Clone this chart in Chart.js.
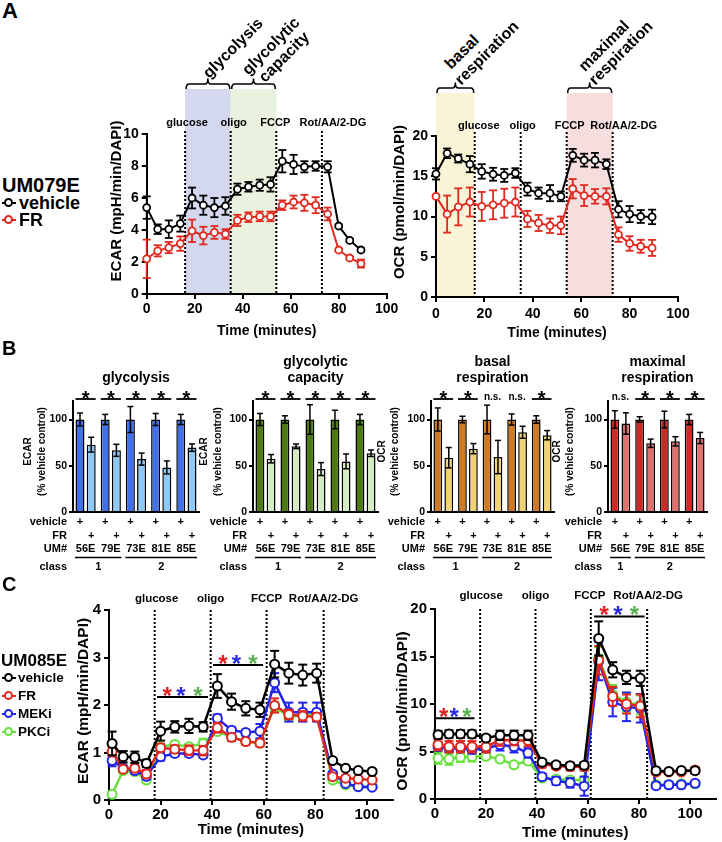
<!DOCTYPE html>
<html>
<head>
<meta charset="utf-8">
<title>ECAR / OCR</title>
<script src="https://cdn.jsdelivr.net/npm/chart.js@4.4.1/dist/chart.umd.min.js"></script>
<style>
  body { margin: 0; background: #fff; }
  #fig { position: relative; width: 722px; height: 842px; overflow: hidden; font-family: 'Liberation Sans', Arial, sans-serif; color: #000; }
  #fig canvas { position: absolute; }
  .t { position: absolute; line-height: 1; white-space: nowrap; font-weight: bold; transform: translateY(-50%); }
  .r { position: absolute; line-height: 1; white-space: nowrap; font-size: 16px; font-weight: bold; transform: translate(-50%, -50%) rotate(-45deg); }
  .mk { position: absolute; width: 14px; height: 0; border-top: 2px solid currentColor; }
  .mk i { position: absolute; left: 2px; top: -6px; width: 5px; height: 5px; border: 2px solid currentColor; border-radius: 50%; background: #fff; }
</style>
</head>
<body>
<div id="fig"></div>
<script>
// ---- panel A : UM079E, vehicle vs FR ----
const aTime = [0, 4.6, 9.2, 14, 18.9, 23.6, 28.2, 32.8, 37.8, 42.4, 47.1, 51.6, 56.5, 61.2, 65.7, 70.4, 75.4, 80, 84.6, 89.3];
const ecarVeh    = [5.4, 4.05, 4.05, 4.4, 6.0, 5.55, 5.4, 5.5, 6.55, 6.7, 6.8, 6.85, 8.3, 8.1, 7.95, 8.0, 7.95, 4.25, 3.35, 2.75];
const ecarVehErr = [0.7, 0.3, 0.55, 0.5, 0.65, 0.6, 0.6, 0.55, 0.35, 0.3, 0.35, 0.45, 0.7, 0.6, 0.35, 0.3, 0.35, 0.1, 0.1, 0.1];
const ecarFR     = [2.2, 2.7, 2.9, 3.15, 3.95, 3.65, 3.85, 3.75, 4.6, 4.8, 4.85, 4.85, 5.55, 5.75, 5.7, 5.55, 5.0, 2.75, 2.25, 1.9];
const ecarFRErr  = [1.2, 0.35, 0.35, 0.45, 0.7, 0.55, 0.4, 0.3, 0.35, 0.3, 0.3, 0.3, 0.3, 0.4, 0.5, 0.5, 0.4, 0.1, 0.1, 0.25];
const ocrVeh     = [15.3, 17.85, 17.2, 16.5, 15.6, 15.25, 15.1, 15.4, 13.4, 12.9, 12.9, 12.5, 17.6, 17.0, 17.0, 16.5, 10.9, 10.3, 10.0, 9.95];
const ocrVehErr  = [0.7, 0.6, 0.5, 1.0, 0.9, 0.8, 0.8, 0.6, 0.8, 0.7, 1.0, 0.6, 0.8, 0.8, 0.9, 0.6, 1.0, 1.0, 0.8, 0.9];
const ocrFR      = [12.5, 10.3, 11.2, 11.8, 11.25, 11.45, 11.65, 11.8, 9.7, 9.2, 8.85, 8.9, 13.45, 12.6, 12.5, 12.5, 7.75, 6.65, 6.3, 6.1];
const ocrFRErr   = [0.1, 2.3, 2.3, 1.8, 1.8, 1.8, 1.8, 1.8, 1.0, 1.0, 0.9, 1.1, 1.2, 1.3, 0.9, 1.0, 0.9, 0.9, 0.8, 1.0];
const injectA = [16, 35, 54, 73];
const injectLabels = ['glucose', 'oligo', 'FCCP', 'Rot/AA/2-DG'];

// ---- panel B : % vehicle control ----
const lines5 = ['56E', '79E', '73E', '81E', '85E'];
const class5 = ['1', '1', '2', '2', '2'];
const lines4 = ['56E', '79E', '81E', '85E'];
const class4 = ['1', '2', '2', '2'];
const glyVeh = [100, 100, 100, 100, 100], glyVehErr = [7, 5.5, 14, 6.5, 5.5];
const glyFR = [72.8, 66.7, 57.2, 48.2, 69.6], glyFRErr = [8, 6.5, 6.5, 7, 4];
const glySig = ['*', '*', '*', '*', '*'];
const capVeh = [100, 100, 100, 100, 100], capVehErr = [6.5, 4, 16, 10, 5.5];
const capFR = [57.6, 71, 46.4, 54.7, 63.5], capFRErr = [4.5, 2.5, 7, 8, 3.5];
const capSig = ['*', '*', '*', '*', '*'];
const basVeh = [100, 100, 100, 100, 100], basVehErr = [12.5, 3.5, 15.5, 6, 4];
const basFR = [58.7, 68.5, 59.4, 86.2, 83], basFRErr = [11, 5.5, 18, 6.5, 5];
const basSig = ['*', '*', 'n.s.', 'n.s.', '*'];
const maxVeh = [100, 100, 100, 100], maxVehErr = [9.5, 3, 9, 5.5];
const maxFR = [95.7, 74.3, 76.4, 80], maxFRErr = [11.5, 4.5, 5, 6];
const maxSig = ['n.s.', '*', '*', '*'];

// ---- panel C : UM085E, vehicle / FR / MEKi / PKCi ----
const cTime = [1.2, 5.5, 10, 14.5, 20, 25.5, 31, 36.5, 42, 47.5, 53, 58.5, 64.2, 69.7, 75.1, 80.5, 86.7, 91.7, 96.6, 102];
const cEcarVeh    = [1.19, 0.91, 0.9, 0.77, 1.45, 1.54, 1.56, 1.54, 2.4, 2.07, 1.93, 1.9, 2.86, 2.67, 2.63, 2.67, 0.83, 0.67, 0.62, 0.6];
const cEcarVehErr = [0.25, 0.12, 0.12, 0.08, 0.2, 0.12, 0.15, 0.1, 0.25, 0.17, 0.15, 0.15, 0.28, 0.22, 0.22, 0.2, 0.05, 0.04, 0.03, 0.03];
const cEcarFR     = [1.02, 0.65, 0.67, 0.55, 1.1, 1.07, 1.05, 1.04, 1.52, 1.32, 1.23, 1.2, 1.99, 1.8, 1.77, 1.75, 0.49, 0.46, 0.44, 0.42];
const cEcarFRErr  = [0.1, 0.05, 0.06, 0.08, 0.08, 0.08, 0.1, 0.1, 0.1, 0.08, 0.07, 0.07, 0.15, 0.1, 0.1, 0.08, 0.05, 0.04, 0.03, 0.03];
const cEcarMEK    = [0.83, 0.67, 0.62, 0.5, 0.91, 0.98, 0.98, 0.95, 1.72, 1.47, 1.42, 1.45, 2.47, 1.85, 1.85, 1.85, 0.55, 0.35, 0.28, 0.27];
const cEcarMEKErr = [0.12, 0.05, 0.05, 0.05, 0.08, 0.06, 0.06, 0.06, 0.08, 0.06, 0.06, 0.15, 0.2, 0.2, 0.2, 0.2, 0.04, 0.03, 0.03, 0.03];
const cEcarPKC    = [0.12, 0.62, 0.6, 0.42, 1.12, 1.17, 1.12, 1.19, 1.44, 1.33, 1.23, 1.2, 1.97, 1.75, 1.79, 1.81, 0.42, 0.32, 0.28, 0.28];
const cEcarPKCErr = [0.05, 0.05, 0.05, 0.05, 0.06, 0.06, 0.06, 0.1, 0.05, 0.05, 0.05, 0.05, 0.1, 0.08, 0.08, 0.08, 0.03, 0.03, 0.03, 0.03];
const cOcrVeh     = [6.77, 6.84, 6.84, 6.84, 6.42, 6.7, 6.7, 6.7, 3.86, 3.6, 3.5, 3.55, 16.9, 13.6, 12.8, 12.7, 2.98, 2.9, 3.0, 2.98];
const cOcrVehErr  = [0.4, 0.4, 0.4, 0.4, 0.3, 0.5, 0.5, 0.5, 0.3, 0.3, 0.3, 0.3, 1.8, 0.8, 0.7, 0.8, 0.2, 0.2, 0.2, 0.3];
const cOcrFR      = [5.72, 5.5, 5.5, 5.5, 5.5, 6.2, 6.15, 6.15, 3.7, 3.45, 3.4, 3.4, 14.6, 10.8, 10.0, 9.8, 2.85, 2.85, 2.85, 3.05];
const cOcrFRErr   = [0.6, 0.6, 0.6, 0.6, 0.6, 0.6, 0.5, 0.6, 0.4, 0.3, 0.4, 0.4, 1.5, 1.0, 1.0, 1.2, 0.3, 0.2, 0.2, 0.3];
const cOcrMEK     = [5.5, 5.35, 5.35, 5.2, 5.35, 5.7, 5.5, 4.85, 2.35, 1.9, 1.7, 1.35, 14.5, 10.2, 9.7, 9.55, 1.4, 1.5, 1.5, 1.65];
const cOcrMEKErr  = [0.4, 0.4, 0.4, 0.4, 0.4, 0.6, 0.6, 0.5, 0.3, 0.4, 0.5, 1.0, 2.0, 1.5, 1.5, 1.5, 0.3, 0.3, 0.3, 0.3];
const cOcrPKC     = [4.3, 4.2, 4.4, 4.45, 4.5, 4.2, 3.6, 4.0, 2.2, 2.1, 2.0, 2.0, 14.8, 11.0, 10.2, 9.9, 1.5, 1.5, 1.6, 1.6];
const cOcrPKCErr  = [0.6, 0.6, 0.5, 0.5, 0.3, 0.3, 0.3, 0.3, 0.3, 0.3, 0.3, 0.3, 1.2, 1.0, 1.0, 1.0, 0.2, 0.2, 0.2, 0.2];
const injectC = [17.7, 39.4, 61.1, 83.2];
// significance bars, in data units: [from, to] minutes and y level
const cEcarSigFrom = [18.6, 40.3], cEcarSigTo = [38.4, 59.7], cEcarSigY = [2.17, 2.84];
const cOcrSigFrom = [0.4, 62.4], cOcrSigTo = [15.5, 82.2], cOcrSigY = [8.5, 19.2];

const RED = '#e0281e', BLUE = '#2222ee', LIME = '#66e23a';
const STARS = ['#e02020', '#2a2ae6', '#58b050'];

const FONT = "'Liberation Sans', Arial, sans-serif";
const f = (size, weight) => (weight || 'bold') + ' ' + size + 'px ' + FONT;
Chart.defaults.font.family = FONT;
Chart.defaults.font.weight = 'bold';
Chart.defaults.color = '#000';

const fig = document.getElementById('fig');

function addCanvas(x, y, w, h) {
  const c = document.createElement('canvas');
  c.width = w; c.height = h;
  c.style.left = x + 'px'; c.style.top = y + 'px';
  c.style.width = w + 'px'; c.style.height = h + 'px';
  fig.appendChild(c);
  return c;
}

function label(txt, x, y, size) {
  const d = document.createElement('div');
  d.className = 't';
  d.textContent = txt;
  d.style.left = x + 'px'; d.style.top = y + 'px'; d.style.fontSize = size + 'px';
  fig.appendChild(d);
  return d;
}

function rotated(txt, x, y) {
  const d = document.createElement('div');
  d.className = 'r';
  d.textContent = txt;
  d.style.left = x + 'px'; d.style.top = y + 'px';
  fig.appendChild(d);
}

function marker(color, y) {
  const d = document.createElement('div');
  d.className = 'mk';
  d.style.left = '2px'; d.style.top = (y - 1) + 'px'; d.style.color = color;
  d.appendChild(document.createElement('i'));
  fig.appendChild(d);
}

function seg(ctx, x0, y0, x1, y1) {
  ctx.beginPath(); ctx.moveTo(x0, y0); ctx.lineTo(x1, y1); ctx.stroke();
}

// annotations: bands, injection lines, error bars, stars, bar rows, axis titles
const seahorse = {
  id: 'seahorse',
  beforeDraw(chart, args, o) {
    if (!o.bands) return;
    const {ctx, chartArea: ca} = chart, x = chart.scales.x;
    ctx.save();
    o.bands.forEach(b => {
      const x0 = x.getPixelForValue(b.from), x1 = x.getPixelForValue(b.to), top = ca.top - o.bandAbove;
      ctx.fillStyle = b.color;
      ctx.fillRect(x0, top, x1 - x0, ca.bottom - top);
      const yb = top - 5, xm = (x0 + x1) / 2;
      ctx.strokeStyle = '#000'; ctx.lineWidth = 1.6; ctx.lineJoin = 'round';
      ctx.beginPath();
      ctx.moveTo(x0 + 1, top); ctx.quadraticCurveTo(x0 + 1, yb, x0 + 4, yb);
      ctx.lineTo(xm - 3, yb); ctx.quadraticCurveTo(xm, yb, xm, yb - 5);
      ctx.quadraticCurveTo(xm, yb, xm + 3, yb);
      ctx.lineTo(x1 - 4, yb); ctx.quadraticCurveTo(x1 - 1, yb, x1 - 1, top);
      ctx.stroke();
    });
    ctx.restore();
  },
  beforeDatasetsDraw(chart, args, o) {
    if (!o.inject) return;
    const {ctx, chartArea: ca} = chart, x = chart.scales.x, inj = o.inject;
    ctx.save();
    ctx.strokeStyle = '#000'; ctx.lineWidth = 2; ctx.setLineDash([2, 2]);
    inj.times.forEach(t => seg(ctx, x.getPixelForValue(t), ca.top - inj.over, x.getPixelForValue(t), ca.bottom));
    ctx.setLineDash([]);
    ctx.font = f(inj.size); ctx.fillStyle = '#000'; ctx.textAlign = 'center'; ctx.textBaseline = 'middle';
    inj.labels.forEach((l, i) => ctx.fillText(l, x.getPixelForValue(inj.times[i]) + inj.shift[i], ca.top + inj.dy));
    ctx.restore();
  },
  beforeDatasetDraw(chart, args, o) {
    const ds = chart.data.datasets[args.index];
    if (!ds.err || chart.config.type !== 'line') return;
    const ctx = chart.ctx, y = chart.scales.y, cap = o.cap || 4;
    ctx.save();
    ctx.strokeStyle = ds.borderColor; ctx.lineWidth = o.errWidth || 1.8;
    args.meta.data.forEach((pt, j) => {
      const v = ds.data[j].y, e = ds.err[j];
      const yt = y.getPixelForValue(v + e), yb = y.getPixelForValue(v - e);
      seg(ctx, pt.x, yt, pt.x, yb);
      seg(ctx, pt.x - cap, yt, pt.x + cap, yt);
      seg(ctx, pt.x - cap, yb, pt.x + cap, yb);
    });
    ctx.restore();
  },
  afterDatasetsDraw(chart, args, o) {
    const {ctx, chartArea: ca} = chart, xs = chart.scales.x, ys = chart.scales.y;
    ctx.save();
    if (o.sig) {
      const s = o.sig;
      s.from.forEach((fr, i) => {
        const x0 = xs.getPixelForValue(fr), x1 = xs.getPixelForValue(s.to[i]), yy = ys.getPixelForValue(s.y[i]);
        ctx.strokeStyle = '#000'; ctx.lineWidth = 2;
        seg(ctx, x0, yy, x1, yy);
        ctx.font = f(24); ctx.textAlign = 'center'; ctx.textBaseline = 'alphabetic';
        STARS.forEach((c, k) => {
          ctx.fillStyle = c;
          ctx.fillText('*', x0 + (x1 - x0) * s.pos[k], yy - 7 + 0.57 * 24);
        });
      });
    }
    if (o.bars) {
      const b = o.bars, m0 = chart.getDatasetMeta(0), m1 = chart.getDatasetMeta(1);
      ctx.strokeStyle = '#000'; ctx.lineWidth = 1.5;
      chart.data.datasets.forEach((ds, i) => {
        chart.getDatasetMeta(i).data.forEach((bar, j) => {
          const yt = ys.getPixelForValue(ds.data[j] + ds.err[j]), yb = ys.getPixelForValue(ds.data[j] - ds.err[j]);
          seg(ctx, bar.x, yt, bar.x, yb);
          seg(ctx, bar.x - 3, yt, bar.x + 3, yt);
          seg(ctx, bar.x - 3, yb, bar.x + 3, yb);
        });
      });
      ctx.fillStyle = '#000'; ctx.textAlign = 'center';
      b.sig.forEach((s, j) => {
        const l = m0.data[j].x - m0.data[j].width / 2, r = m1.data[j].x + m1.data[j].width / 2, cx = (l + r) / 2;
        if (s === '*') {
          ctx.lineWidth = 1.8;
          seg(ctx, l, ca.top - 2, r, ca.top - 2);
          ctx.font = f(20); ctx.textBaseline = 'alphabetic';
          ctx.fillText(s, cx, ca.top - 7 + 0.57 * 20);
        } else {
          ctx.font = f(10); ctx.textBaseline = 'middle';
          ctx.fillText(s, cx, ca.top - 4);
        }
      });
      ctx.font = f(14); ctx.textBaseline = 'middle';
      const mid = (ca.left + ca.right) / 2;
      b.title.forEach((t, k) => ctx.fillText(t, mid, ca.top - 23 - 16 * (b.title.length - 1 - k)));
      // rows under the axis
      const rowY = [10, 24, 37, 55].map(d => ca.bottom + d);
      ctx.font = f(11);
      ctx.textAlign = 'right';
      [chart.data.datasets[0].label, chart.data.datasets[1].label, 'UM#', 'class']
        .forEach((t, k) => ctx.fillText(t, ca.left - 6, rowY[k]));
      ctx.textAlign = 'center';
      m0.data.forEach(bar => ctx.fillText('+', bar.x, rowY[0]));
      m1.data.forEach(bar => ctx.fillText('+', bar.x, rowY[1]));
      const labs = chart.data.labels, cw = (ca.right - ca.left) / labs.length;
      labs.forEach((lab, j) => ctx.fillText(lab, xs.getPixelForValue(j), rowY[2]));
      let j0 = 0;
      ctx.lineWidth = 1.5;
      for (let j = 1; j <= b.classes.length; j++) {
        if (j === b.classes.length || b.classes[j] !== b.classes[j0]) {
          const x0 = xs.getPixelForValue(j0) - cw / 2 + 2, x1 = xs.getPixelForValue(j - 1) + cw / 2 - 2;
          seg(ctx, x0, ca.bottom + 45.5, x1, ca.bottom + 45.5);
          ctx.fillText(b.classes[j0], (x0 + x1) / 2, rowY[3]);
          j0 = j;
        }
      }
    }
    ctx.restore();
  },
  afterDraw(chart, args, o) {
    if (!o.ytitle) return;
    const {ctx, chartArea: ca} = chart, t = o.ytitle;
    ctx.save();
    ctx.font = f(t.size); ctx.fillStyle = '#000'; ctx.textAlign = 'center'; ctx.textBaseline = 'middle';
    t.lines.forEach((s, k) => {
      ctx.save();
      ctx.translate(ca.left + t.dx[k], (ca.top + ca.bottom) / 2 + t.dy);
      ctx.rotate(-Math.PI / 2);
      ctx.fillText(s, 0, 0);
      ctx.restore();
    });
    ctx.restore();
  }
};
Chart.register(seahorse);

function axisStyle(tickLen) {
  return {
    grid: {drawOnChartArea: false, color: '#000', lineWidth: 2, tickLength: tickLen},
    border: {color: '#000', width: 2}
  };
}

// box = [left, top, width, height] of the canvas, area = [left, top, right, bottom] of the plot
function lineChart(box, area, cfg) {
  const [bx, by, bw, bh] = box, [L, T, R, B] = area;
  const cv = addCanvas(bx, by, bw, bh);
  return new Chart(cv, {
    type: 'line',
    data: {
      datasets: cfg.series.map(s => ({
        label: s.label,
        data: cfg.time.map((t, i) => ({x: t, y: s.values[i]})),
        err: s.err,
        borderColor: s.color,
        pointBorderColor: s.color,
        pointBackgroundColor: '#fff',
        borderWidth: cfg.lw,
        pointRadius: cfg.r,
        pointBorderWidth: cfg.pbw,
        tension: 0,
        clip: false
      }))
    },
    options: {
      responsive: false,
      animation: false,
      devicePixelRatio: 1,
      layout: {padding: {left: 0, top: T - by, right: bx + bw - R, bottom: 0}},
      scales: {
        x: {
          type: 'linear', min: 0, max: cfg.xmax,
          ticks: {stepSize: 20, includeBounds: false, font: {size: cfg.tick}, padding: cfg.xpad, maxRotation: 0},
          ...axisStyle(5),
          title: {display: true, text: 'Time (minutes)', font: {size: cfg.xtitle}, padding: {top: 0, bottom: cfg.xtitlePad}},
          afterFit: s => { s.height = by + bh - B; }
        },
        y: {
          min: 0, max: cfg.ymax,
          ticks: {stepSize: cfg.ystep, includeBounds: false, font: {size: cfg.tick}, padding: 3},
          ...axisStyle(5),
          afterFit: s => { s.width = L - bx; }
        }
      },
      plugins: {legend: {display: false}, tooltip: {enabled: false}, seahorse: cfg.ann}
    }
  });
}

function barChart(box, area, cfg) {
  const [bx, by, bw, bh] = box, [L, T, R, B] = area;
  const cv = addCanvas(bx, by, bw, bh);
  const common = {borderColor: '#000', borderWidth: 1.5, categoryPercentage: 0.89, barPercentage: 0.8};
  return new Chart(cv, {
    type: 'bar',
    data: {
      labels: cfg.labels,
      datasets: [
        {label: 'vehicle', data: cfg.veh, err: cfg.vehErr, backgroundColor: cfg.colors[0], ...common},
        {label: 'FR', data: cfg.fr, err: cfg.frErr, backgroundColor: cfg.colors[1], ...common}
      ]
    },
    options: {
      responsive: false,
      animation: false,
      devicePixelRatio: 1,
      layout: {padding: {left: 0, top: T - by, right: bx + bw - R, bottom: 0}},
      scales: {
        x: {
          ticks: {display: false},
          grid: {display: false},
          border: {color: '#000', width: 2},
          afterFit: s => { s.height = by + bh - B; }
        },
        y: {
          min: 0, max: 120,
          ticks: {stepSize: 50, includeBounds: false, font: {size: 10.5}, padding: 2},
          ...axisStyle(4),
          afterFit: s => { s.width = L - bx; }
        }
      },
      plugins: {
        legend: {display: false}, tooltip: {enabled: false},
        seahorse: {
          bars: {sig: cfg.sig, title: cfg.title, classes: cfg.classes},
          ytitle: {lines: [cfg.ylabel, '(% vehicle control)'], dx: cfg.ydx, dy: -5, size: 10}
        }
      }
    }
  });
}

// ---- panel A ----
lineChart([90, 75, 315, 270], [146.7, 134, 386.7, 294], {
  time: aTime, xmax: 100, ymax: 10, ystep: 2, lw: 2, r: 3.5, pbw: 1.8, tick: 14, xpad: 2, xtitle: 14, xtitlePad: 5.6,
  series: [
    {label: 'vehicle', values: ecarVeh, err: ecarVehErr, color: '#000'},
    {label: 'FR', values: ecarFR, err: ecarFRErr, color: RED}
  ],
  ann: {
    cap: 4, errWidth: 1.8, bandAbove: 45,
    bands: [{from: 16, to: 35, color: '#d3d8ef'}, {from: 35, to: 54, color: '#e9f2de'}],
    inject: {times: injectA, labels: injectLabels, shift: [2, 3, -1, 11], dy: -11, over: 3, size: 11},
    ytitle: {lines: ['ECAR (mpH/min/DAPI)'], dx: [-29.7], dy: -13, size: 15}
  }
});

lineChart([385, 75, 337, 270], [436, 136, 678, 297], {
  time: aTime, xmax: 100, ymax: 20, ystep: 5, lw: 2, r: 3.5, pbw: 1.8, tick: 14, xpad: 4, xtitle: 14, xtitlePad: 3.6,
  series: [
    {label: 'vehicle', values: ocrVeh, err: ocrVehErr, color: '#000'},
    {label: 'FR', values: ocrFR, err: ocrFRErr, color: RED}
  ],
  ann: {
    cap: 4, errWidth: 1.8, bandAbove: 43,
    bands: [{from: 0, to: 16, color: '#faf4d6'}, {from: 54, to: 73, color: '#f6dede'}],
    inject: {times: injectA, labels: injectLabels, shift: [4, 2, 3, 11], dy: -10, over: 4, size: 11},
    ytitle: {lines: ['OCR (pmol/min/DAPI)'], dx: [-36], dy: -14.5, size: 15}
  }
});

// ---- panel B ----
barChart([0, 345, 205, 235], [73, 401, 199, 512], {
  labels: lines5, classes: class5, veh: glyVeh, vehErr: glyVehErr, fr: glyFR, frErr: glyFRErr,
  sig: glySig, title: ['glycolysis'], colors: ['#4270eb', '#8ec9f7'], ylabel: 'ECAR', ydx: [-45, -31]
});
barChart([195, 345, 190, 235], [253, 401, 378, 512], {
  labels: lines5, classes: class5, veh: capVeh, vehErr: capVehErr, fr: capFR, frErr: capFRErr,
  sig: capSig, title: ['glycolytic', 'capacity'], colors: ['#4e7a16', '#d4edc4'], ylabel: 'ECAR', ydx: [-49, -35]
});
barChart([372, 345, 188, 235], [431, 401, 554, 512], {
  labels: lines5, classes: class5, veh: basVeh, vehErr: basVehErr, fr: basFR, frErr: basFRErr,
  sig: basSig, title: ['basal', 'respiration'], colors: ['#cc7a24', '#f0d374'], ylabel: 'OCR', ydx: [-49, -36]
});
barChart([546, 345, 170, 235], [608, 401, 707, 512], {
  labels: lines4, classes: class4, veh: maxVeh, vehErr: maxVehErr, fr: maxFR, frErr: maxFRErr,
  sig: maxSig, title: ['maximal', 'respiration'], colors: ['#cc2a22', '#de7270'], ylabel: 'OCR', ydx: [-51, -38]
});

// ---- panel C ----
const sigPos = [0.2, 0.47, 0.8];
lineChart([60, 585, 340, 257], [109, 610, 392.8, 800], {
  time: cTime, xmax: 110, ymax: 4, ystep: 1, lw: 2.5, r: 4.5, pbw: 2, tick: 15, xpad: 1, xtitle: 15, xtitlePad: 3,
  series: [
    {label: 'vehicle', values: cEcarVeh, err: cEcarVehErr, color: '#000'},
    {label: 'FR', values: cEcarFR, err: cEcarFRErr, color: RED},
    {label: 'MEKi', values: cEcarMEK, err: cEcarMEKErr, color: BLUE},
    {label: 'PKCi', values: cEcarPKC, err: cEcarPKCErr, color: LIME}
  ],
  ann: {
    cap: 4.5, errWidth: 2,
    inject: {times: injectC, labels: injectLabels, shift: [2, 0, 0, 0], dy: -11, over: 0, size: 11.5},
    sig: {from: cEcarSigFrom, to: cEcarSigTo, y: cEcarSigY, pos: sigPos},
    ytitle: {lines: ['ECAR (mpH/min/DAPI)'], dx: [-25], dy: -4, size: 15.5}
  }
});

lineChart([385, 585, 337, 257], [435, 609, 718.8, 799], {
  time: cTime, xmax: 110, ymax: 20, ystep: 5, lw: 2.5, r: 4.5, pbw: 2, tick: 15, xpad: 1, xtitle: 15, xtitlePad: 0,
  series: [
    {label: 'vehicle', values: cOcrVeh, err: cOcrVehErr, color: '#000'},
    {label: 'FR', values: cOcrFR, err: cOcrFRErr, color: RED},
    {label: 'MEKi', values: cOcrMEK, err: cOcrMEKErr, color: BLUE},
    {label: 'PKCi', values: cOcrPKC, err: cOcrPKCErr, color: LIME}
  ],
  ann: {
    cap: 4.5, errWidth: 2,
    inject: {times: injectC, labels: injectLabels, shift: [1, 0, -1, 1], dy: -13, over: 0, size: 11.5},
    sig: {from: cOcrSigFrom, to: cOcrSigTo, y: cOcrSigY, pos: sigPos},
    ytitle: {lines: ['OCR (pmol/min/DAPI)'], dx: [-32], dy: 7, size: 15.5}
  }
});

// ---- free text: panel letters, legends, phase labels ----
label('A', 2, 11, 22);
label('B', 2, 348, 20);
label('C', 2, 584, 20);

label('UM079E', 2, 185, 20);
marker('#000', 203); label('vehicle', 19, 203, 18);
marker(RED, 220); label('FR', 19, 220, 18);

label('UM085E', 1, 660, 17);
[['vehicle', '#000', 678], ['FR', RED, 696], ['MEKi', BLUE, 714], ['PKCi', LIME, 732]].forEach(([t, c, y]) => {
  marker(c, y); label(t, 18, y, 13.5);
});

rotated('glycolysis', 232.5, 48);
rotated('glycolytic', 271, 46);
rotated('capacity', 284, 57);
rotated('basal', 462, 52);
rotated('respiration', 487, 53);
rotated('maximal', 604, 46);
rotated('respiration', 621, 53);
</script>
</body>
</html>
